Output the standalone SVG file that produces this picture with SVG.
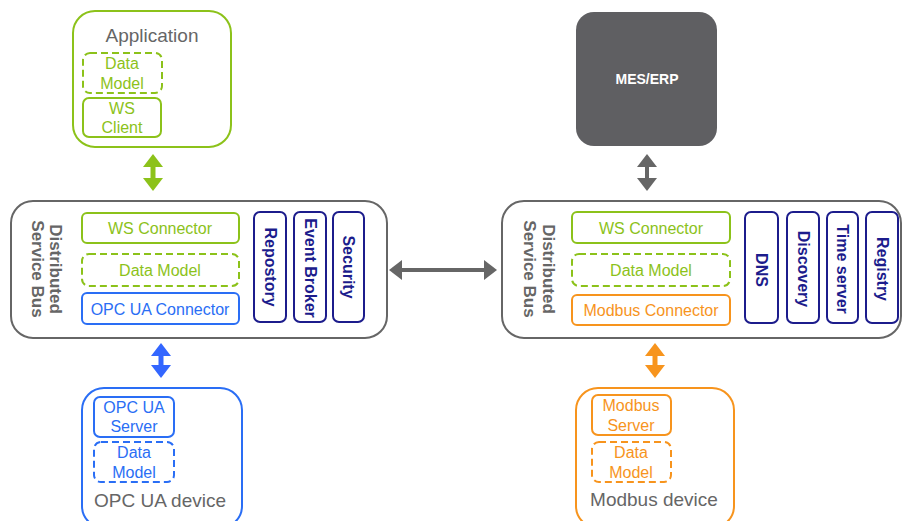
<svg xmlns="http://www.w3.org/2000/svg" width="904" height="521" viewBox="0 0 904 521">
<style>
text{font-family:"Liberation Sans",Arial,sans-serif;text-anchor:middle}
.g{fill:none;stroke:#8cc21a;stroke-width:2}
.gd{fill:none;stroke:#8cc21a;stroke-width:2;stroke-dasharray:7 4}
.b{fill:none;stroke:#2a6ef5;stroke-width:2}
.bd{fill:none;stroke:#2a6ef5;stroke-width:2;stroke-dasharray:7 4}
.o{fill:none;stroke:#f7941d;stroke-width:2}
.od{fill:none;stroke:#f7941d;stroke-width:2;stroke-dasharray:7 4}
.n{fill:none;stroke:#1c1c8c;stroke-width:2}
.bus{fill:#fff;stroke:#666;stroke-width:2}
.tg{fill:#8cc21a;font-size:16px}
.tb{fill:#2a6ef5;font-size:16px}
.to{fill:#f7941d;font-size:16px}
.tn{fill:#1c1c8c;font-size:16px;font-weight:bold}
.tgray{fill:#666;font-size:19px}
.tbus{fill:#666;font-size:17px;font-weight:bold}
</style>
<defs>
<marker id="ag" viewBox="0 0 13 20" refX="1" refY="10" markerWidth="13" markerHeight="20" markerUnits="userSpaceOnUse" orient="auto-start-reverse"><path d="M0,0L13,10L0,20Z" fill="#8cc21a"/></marker>
<marker id="ab" viewBox="0 0 13 20" refX="1" refY="10" markerWidth="13" markerHeight="20" markerUnits="userSpaceOnUse" orient="auto-start-reverse"><path d="M0,0L13,10L0,20Z" fill="#3366ff"/></marker>
<marker id="ao" viewBox="0 0 13 20" refX="1" refY="10" markerWidth="13" markerHeight="20" markerUnits="userSpaceOnUse" orient="auto-start-reverse"><path d="M0,0L13,10L0,20Z" fill="#f7941d"/></marker>
<marker id="ay" viewBox="0 0 13 20" refX="1" refY="10" markerWidth="13" markerHeight="20" markerUnits="userSpaceOnUse" orient="auto-start-reverse"><path d="M0,0L13,10L0,20Z" fill="#666"/></marker>
</defs>

<g id="application">
<rect x="73" y="11" width="158" height="136" rx="22" class="g" fill="#fff"/>
<text x="152" y="42" class="tgray">Application</text>
<rect x="83" y="53" width="79" height="40" rx="7" class="gd"/>
<text x="122" y="69" class="tg">Data</text>
<text x="122" y="89" class="tg">Model</text>
<rect x="83" y="98" width="78" height="39" rx="6" class="g"/>
<text x="122" y="114" class="tg">WS</text>
<text x="122" y="133" class="tg">Client</text>
</g>

<g id="mes-erp">
<rect x="576" y="12" width="141" height="134" rx="18" fill="#5f5f62"/>
<text x="647" y="84" fill="#fff" font-size="14" font-weight="bold">MES/ERP</text>
</g>

<g id="bus-left">
<rect x="11" y="201" width="376" height="137" rx="22" class="bus"/>
<text transform="translate(55,269) rotate(90)" dominant-baseline="central" class="tbus">Distributed</text>
<text transform="translate(37,269) rotate(90)" dominant-baseline="central" class="tbus">Service Bus</text>
<rect x="82" y="213" width="157" height="30" rx="5" class="g"/>
<text x="160" y="234" class="tg">WS Connector</text>
<rect x="82" y="254" width="157" height="32" rx="7" class="gd"/>
<text x="160" y="276" class="tg">Data Model</text>
<rect x="82" y="293" width="157" height="31" rx="5" class="b"/>
<text x="160" y="315" class="tb">OPC UA Connector</text>
<rect x="254" y="212" width="32" height="110" rx="6" class="n"/>
<text transform="translate(270,267) rotate(90)" dominant-baseline="central" class="tn">Repostory</text>
<rect x="294" y="212" width="32" height="110" rx="6" class="n"/>
<text transform="translate(310,268) rotate(90)" dominant-baseline="central" class="tn">Event Broker</text>
<rect x="333" y="212" width="31" height="110" rx="6" class="n"/>
<text transform="translate(348.5,267) rotate(90)" dominant-baseline="central" class="tn">Security</text>
</g>

<g id="bus-right">
<rect x="502" y="201" width="399" height="137" rx="22" class="bus"/>
<text transform="translate(548,269) rotate(90)" dominant-baseline="central" class="tbus">Distributed</text>
<text transform="translate(529,269) rotate(90)" dominant-baseline="central" class="tbus">Service Bus</text>
<rect x="572" y="212" width="158" height="31" rx="5" class="g"/>
<text x="651" y="234" class="tg">WS Connector</text>
<rect x="572" y="254" width="158" height="32" rx="7" class="gd"/>
<text x="651" y="276" class="tg">Data Model</text>
<rect x="572" y="295" width="158" height="30" rx="5" class="o"/>
<text x="651" y="316" class="to">Modbus Connector</text>
<rect x="745" y="212" width="33" height="111" rx="6" class="n"/>
<text transform="translate(761.5,270) rotate(90)" dominant-baseline="central" class="tn">DNS</text>
<rect x="787" y="212" width="32" height="111" rx="6" class="n"/>
<text transform="translate(803,269) rotate(90)" dominant-baseline="central" class="tn">Discovery</text>
<rect x="827" y="212" width="31" height="111" rx="6" class="n"/>
<text transform="translate(842.5,269) rotate(90)" dominant-baseline="central" class="tn">Time server</text>
<rect x="866" y="212" width="32" height="111" rx="6" class="n"/>
<text transform="translate(882,269) rotate(90)" dominant-baseline="central" class="tn">Registry</text>
</g>

<g id="opcua-device">
<rect x="82" y="388" width="160" height="140" rx="22" class="b" fill="#fff"/>
<rect x="94" y="397" width="80" height="40" rx="6" class="b"/>
<text x="134" y="413" class="tb">OPC UA</text>
<text x="134" y="432" class="tb">Server</text>
<rect x="94" y="442" width="80" height="40" rx="7" class="bd"/>
<text x="134" y="458" class="tb">Data</text>
<text x="134" y="478" class="tb">Model</text>
<text x="160" y="507" class="tgray">OPC UA device</text>
</g>

<g id="modbus-device">
<rect x="576" y="388" width="158" height="140" rx="22" class="o" fill="#fff"/>
<rect x="592" y="395" width="79" height="40" rx="6" class="o"/>
<text x="631" y="411" class="to">Modbus</text>
<text x="631" y="431" class="to">Server</text>
<rect x="592" y="442" width="79" height="40" rx="7" class="od"/>
<text x="631" y="458" class="to">Data</text>
<text x="631" y="478" class="to">Model</text>
<text x="654" y="506" class="tgray">Modbus device</text>
</g>

<g id="connectors">
<line x1="153" y1="166" x2="153" y2="179" stroke="#8cc21a" stroke-width="5" marker-start="url(#ag)" marker-end="url(#ag)"/>
<line x1="647" y1="166" x2="647" y2="179" stroke="#666" stroke-width="4" marker-start="url(#ay)" marker-end="url(#ay)"/>
<line x1="401" y1="270" x2="485" y2="270" stroke="#666" stroke-width="4" marker-start="url(#ay)" marker-end="url(#ay)"/>
<line x1="161" y1="355" x2="161" y2="366" stroke="#3366ff" stroke-width="5" marker-start="url(#ab)" marker-end="url(#ab)"/>
<line x1="655" y1="355" x2="655" y2="366" stroke="#f7941d" stroke-width="5" marker-start="url(#ao)" marker-end="url(#ao)"/>
</g>
</svg>
